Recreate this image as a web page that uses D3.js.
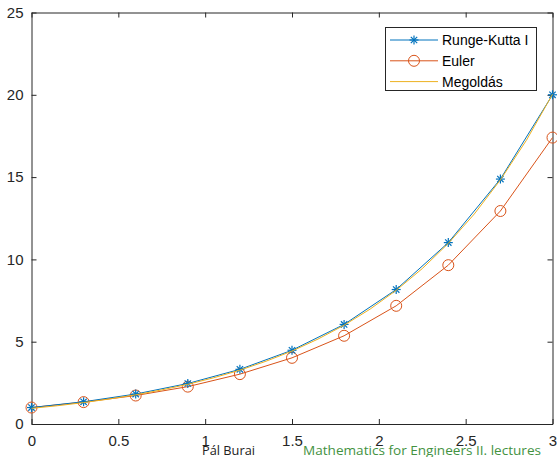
<!DOCTYPE html>
<html>
<head>
    <meta charset="utf-8">
    <script src="https://d3js.org/d3.v7.min.js"></script>
    <style>
        body { margin: 0; background: white; }
        .tick text { font-family: "Liberation Sans", Arial, sans-serif; font-size: 15px; fill: #262626; }
        .legend text { font-family: "Liberation Sans", Arial, sans-serif; font-size: 14px; fill: #000; }
        .footer { font-family: "Open Sans", "DejaVu Sans", sans-serif; font-size: 12.5px; }
    </style>
</head>
<body>
    <div id="chart"></div>
    <script>
        // step points (h = 0.3)
        const tValues = [0, 0.3, 0.6, 0.9, 1.2, 1.5, 1.8, 2.1, 2.4, 2.7, 3.0];
        const rungeKutta = [1, 1.35, 1.82, 2.46, 3.32, 4.48, 6.05, 8.17, 11.02, 14.88, 20.0];
        const euler = [1, 1.33, 1.73, 2.27, 3.03, 4.02, 5.36, 7.18, 9.65, 12.94, 17.4];
        // exact solution
        const solT = [0, 0.15, 0.3, 0.45, 0.6, 0.75, 0.9, 1.05, 1.2, 1.35, 1.5, 1.65, 1.8, 1.95, 2.1, 2.25, 2.4, 2.55, 2.7, 2.85, 3.0];
        const solution = [1, 1.16, 1.35, 1.57, 1.82, 2.12, 2.46, 2.86, 3.32, 3.86, 4.48, 5.21, 6.05, 7.03, 8.17, 9.49, 11.02, 12.81, 14.88, 17.29, 20.08];
        const xTicks = [0, 0.5, 1, 1.5, 2, 2.5, 3];
        const yTicks = [0, 5, 10, 15, 20, 25];
        const seriesNames = ["Runge-Kutta I", "Euler", "Megoldás"];
        const colors = ["#0072BD", "#D95319", "#EDB120"];

        const W = 557, H = 457;
        const margin = { top: 12.5, right: 4.5, bottom: 33, left: 31.5 };
        const width = W - margin.left - margin.right,
            height = H - margin.top - margin.bottom;

        const svg = d3.select("#chart").append("svg")
            .attr("width", W).attr("height", H);
        const g = svg.append("g")
            .attr("transform", `translate(${margin.left},${margin.top})`);

        const x = d3.scaleLinear().domain([0, 3]).range([0, width]);
        const y = d3.scaleLinear().domain([0, 25]).range([height, 0]);

        // axes with inward ticks on all four sides (box on)
        const styleAxis = sel => {
            sel.select(".domain").attr("stroke", "#262626");
            sel.selectAll(".tick line").attr("stroke", "#262626");
        };
        g.append("g").attr("transform", `translate(0,${height})`)
            .call(d3.axisBottom(x).tickValues(xTicks).tickFormat(d3.format("")).tickSizeInner(-5).tickSizeOuter(0).tickPadding(11))
            .call(styleAxis);
        g.append("g")
            .call(d3.axisLeft(y).tickValues(yTicks).tickSizeInner(-5).tickSizeOuter(0).tickPadding(8))
            .call(styleAxis);
        g.append("g")
            .call(d3.axisTop(x).tickValues(xTicks).tickFormat("").tickSizeInner(-5).tickSizeOuter(0))
            .call(styleAxis);
        g.append("g").attr("transform", `translate(${width},0)`)
            .call(d3.axisRight(y).tickValues(yTicks).tickFormat("").tickSizeInner(-5).tickSizeOuter(0))
            .call(styleAxis);

        const line = d3.line().x(d => x(d[0])).y(d => y(d[1]));
        const rkData = tValues.map((t, i) => [t, rungeKutta[i]]);
        const euData = tValues.map((t, i) => [t, euler[i]]);
        const solData = solT.map((t, i) => [t, solution[i]]);

        const star = (sel, cx, cy, r) => {
            const p = sel.append("g").attr("transform", `translate(${cx},${cy})`)
                .attr("stroke", colors[0]).attr("stroke-width", 1.2);
            [0, 45, 90, 135].forEach(a => {
                const rad = a * Math.PI / 180;
                p.append("line")
                    .attr("x1", -r * Math.cos(rad)).attr("y1", -r * Math.sin(rad))
                    .attr("x2", r * Math.cos(rad)).attr("y2", r * Math.sin(rad));
            });
        };

        // Euler
        g.append("path").datum(euData)
            .attr("fill", "none").attr("stroke", colors[1]).attr("stroke-width", 1)
            .attr("d", line);
        g.selectAll(".eu").data(euData).join("circle")
            .attr("cx", d => x(d[0])).attr("cy", d => y(d[1])).attr("r", 5.5)
            .attr("fill", "none").attr("stroke", colors[1]).attr("stroke-width", 1);

        // Runge-Kutta
        g.append("path").datum(rkData)
            .attr("fill", "none").attr("stroke", colors[0]).attr("stroke-width", 1)
            .attr("d", line);
        rkData.forEach(d => star(g, x(d[0]), y(d[1]), 4.5));

        // exact solution
        g.append("path").datum(solData)
            .attr("fill", "none").attr("stroke", colors[2]).attr("stroke-width", 1)
            .attr("transform", "translate(0,0.8)")
            .attr("d", line);

        // legend
        const lg = svg.append("g").attr("class", "legend");
        lg.append("rect").attr("x", 385.5).attr("y", 27.5).attr("width", 151).attr("height", 63)
            .attr("fill", "white").attr("stroke", "#262626").attr("stroke-width", 1);
        seriesNames.forEach((name, i) => {
            const ly = 40 + i * 20.8;
            lg.append("line").attr("x1", 390).attr("x2", 438).attr("y1", ly).attr("y2", ly)
                .attr("stroke", colors[i]).attr("stroke-width", 1);
            if (i === 0) star(lg, 414, ly, 4.5);
            if (i === 1) lg.append("circle").attr("cx", 414).attr("cy", ly).attr("r", 5.5)
                .attr("fill", "none").attr("stroke", colors[1]);
            lg.append("text").attr("x", 442).attr("y", ly + 5).text(name);
        });

        // footer
        svg.append("text").attr("class", "footer").attr("x", 202).attr("y", 455)
            .attr("textLength", 53).attr("lengthAdjust", "spacingAndGlyphs")
            .attr("fill", "#222").text("Pál Burai");
        svg.append("text").attr("class", "footer").attr("x", 303).attr("y", 455)
            .attr("textLength", 238).attr("lengthAdjust", "spacingAndGlyphs")
            .attr("fill", "#43923f").text("Mathematics for Engineers II. lectures");
    </script>
</body>
</html>
